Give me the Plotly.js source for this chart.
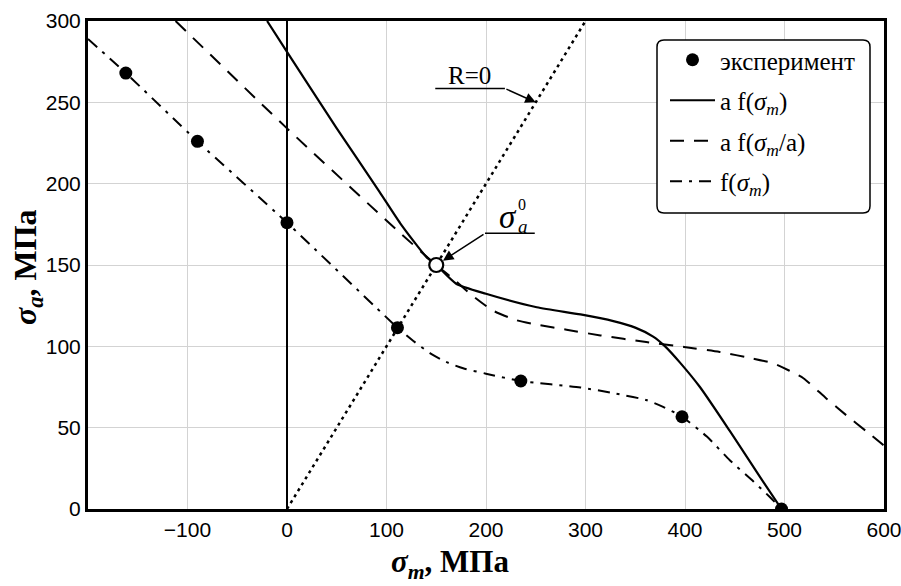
<!DOCTYPE html>
<html>
<head>
<meta charset="utf-8">
<script src="https://cdn.plot.ly/plotly-3.0.1.min.js"></script>
<style>html,body{margin:0;padding:0;background:#fff;}#chart{width:901px;height:586px;}</style>
</head>
<body>
<div id="chart"></div>
<script>
// ---- data ----
const expX = [-162, -90, 0, 111, 235, 397, 497];
const expY = [268, 226, 176, 111.5, 78.7, 56.7, 0];

const fX = [-200, -162, -90, 0, 111, 127, 144, 160, 177, 200, 235, 295, 330, 361, 378, 397, 422, 445, 469, 485, 497];
const fY = [289, 268, 226, 176, 111.5, 103.3, 95.7, 90.4, 86.5, 83.2, 78.7, 74.7, 71, 67, 62.8, 56.7, 44.5, 30, 16.8, 7.5, 0];

const afX = [-20, 0, 50, 93, 114, 140, 150, 170, 200, 251, 295, 328, 350, 368, 380, 395, 415, 445, 475, 497];
const afY = [300, 281, 234, 195, 175.5, 155, 150, 138.5, 132.3, 124, 119.6, 115.5, 111.5, 106, 100, 90, 75, 48, 20, 0];

const afaX = [-112, 0, 114, 150, 170, 184, 207, 231, 254, 281, 315, 361, 399, 435, 468, 489, 505, 519, 542, 562, 583, 600];
const afaY = [300, 234, 169.5, 150, 140, 132.3, 122, 116, 113, 110.2, 106.7, 102.6, 99.6, 96.5, 92.5, 89.5, 85, 80.4, 68, 57.7, 47.4, 39];

const rX = [0, 300];
const rY = [0, 300];

const s0X = [150];
const s0Y = [150];

const xTicks = [-100, 0, 100, 200, 300, 400, 500, 600];
const yTicks = [0, 50, 100, 150, 200, 250, 300];

const names = ['эксперимент', 'a f(<i>σ<sub>m</sub></i>)', 'a f(<i>σ<sub>m</sub></i>/a)', 'f(<i>σ<sub>m</sub></i>)'];

// ---- styling ----
const serif = 'Liberation Serif';
const sans = 'Liberation Sans';

const traces = [
  {x: rX, y: rY, mode: 'lines', line: {color: '#000', width: 2.5, dash: '3px,4px'}, showlegend: false, hoverinfo: 'skip'},
  {x: afaX, y: afaY, mode: 'lines', name: names[2], legendgroup: 'c', legendrank: 3,
   line: {color: '#000', width: 2, dash: '14px,10px', shape: 'spline', smoothing: 0.6}},
  {x: fX, y: fY, mode: 'lines', name: names[3], legendgroup: 'd', legendrank: 4,
   line: {color: '#000', width: 2, dash: '12px,7px,3px,7px', shape: 'spline', smoothing: 0.6}},
  {x: afX, y: afY, mode: 'lines', name: names[1], legendgroup: 'b', legendrank: 2,
   line: {color: '#000', width: 2.2, shape: 'spline', smoothing: 0.6}},
  {x: expX, y: expY, mode: 'markers', name: names[0], legendgroup: 'a', legendrank: 1,
   marker: {color: '#000', size: 13}},
  {x: s0X, y: s0Y, mode: 'markers', showlegend: false,
   marker: {color: '#fff', size: 14, line: {color: '#000', width: 2.2}}}
];

// legend rounded box (pixel geometry of plot area)
const L = 88, R = 884, T = 21, B = 509;
const W = R - L, H = B - T;
function px(x){return (x - L) / W;}
function py(y){return (B - y) / H;}
const bx0 = px(657), bx1 = px(870), by0 = py(40), by1 = py(213);
const rx = 7 / W, ry = 7 / H;
const boxPath = `M ${bx0+rx},${by0} L ${bx1-rx},${by0} Q ${bx1},${by0} ${bx1},${by0-ry} L ${bx1},${by1+ry} Q ${bx1},${by1} ${bx1-rx},${by1} L ${bx0+rx},${by1} Q ${bx0},${by1} ${bx0},${by1+ry} L ${bx0},${by0-ry} Q ${bx0},${by0} ${bx0+rx},${by0} Z`;

const layout = {
  width: 901, height: 586,
  margin: {l: L, r: 901 - R, t: T, b: 586 - B},
  paper_bgcolor: '#fff', plot_bgcolor: '#fff',
  showlegend: true,
  legend: {x: px(665), y: py(37), xanchor: 'left', yanchor: 'top',
    bgcolor: 'rgba(0,0,0,0)', borderwidth: 0, tracegroupgap: 5, itemwidth: 45,
    font: {family: serif, size: 25, color: '#000'}},
  xaxis: {range: [-200, 600], tickvals: xTicks, ticks: '', showgrid: true, gridcolor: '#d3d3d3', gridwidth: 1,
    zeroline: true, zerolinecolor: '#000', zerolinewidth: 2,
    showline: true, mirror: true, linecolor: '#000', linewidth: 3, ticklabeloverflow: 'allow',
    tickfont: {family: sans, size: 21, color: '#000'}},
  yaxis: {range: [0, 300], tickvals: yTicks, ticks: '', showgrid: true, gridcolor: '#d3d3d3', gridwidth: 1,
    zeroline: false, showline: true, mirror: true, linecolor: '#000', linewidth: 3, ticklabeloverflow: 'allow',
    tickfont: {family: sans, size: 21, color: '#000'}},
  shapes: [
    {type: 'path', xref: 'paper', yref: 'paper', path: boxPath, fillcolor: '#fff', line: {color: '#000', width: 1.5}, layer: 'above'},
    {type: 'line', xref: 'x', yref: 'y', x0: 149, x1: 219, y0: 258.5, y1: 258.5, line: {color: '#000', width: 1.5}},
    {type: 'line', xref: 'x', yref: 'y', x0: 199, x1: 249, y0: 169.5, y1: 169.5, line: {color: '#000', width: 1.5}}
  ],
  annotations: [
    {x: 250, y: 250, ax: 219, ay: 258.5, axref: 'x', ayref: 'y', xref: 'x', yref: 'y', text: '',
     showarrow: true, arrowhead: 2, arrowsize: 1.4, arrowwidth: 1.5, arrowcolor: '#000', standoff: 0},
    {x: 150, y: 150, ax: 199, ay: 169.5, axref: 'x', ayref: 'y', xref: 'x', yref: 'y', text: '',
     showarrow: true, arrowhead: 2, arrowsize: 1.4, arrowwidth: 1.5, arrowcolor: '#000', standoff: 8},
    {x: 183, y: 266.5, xref: 'x', yref: 'y', text: 'R=0', showarrow: false, font: {family: serif, size: 25, color: '#000'}},
    {x: 222.5, y: 179.5, xref: 'x', yref: 'y', text: '<i>σ</i>', showarrow: false, font: {family: serif, size: 33, color: '#000'}},
    {x: 236.5, y: 187, xref: 'x', yref: 'y', text: '0', showarrow: false, font: {family: serif, size: 16, color: '#000'}},
    {x: 237.5, y: 173.8, xref: 'x', yref: 'y', text: '<i>a</i>', showarrow: false, font: {family: serif, size: 19, color: '#000'}},
    {xref: 'paper', yref: 'paper', x: px(450), y: py(564), xanchor: 'center', yanchor: 'middle',
     text: '<b><i>σ<sub>m</sub></i>, МПа</b>', showarrow: false, font: {family: serif, size: 31, color: '#000'}},
    {xref: 'paper', yref: 'paper', x: px(27), y: py(267), xanchor: 'center', yanchor: 'middle',
     text: '<b><i>σ<sub>a</sub></i>, МПа</b>', showarrow: false, textangle: -90, font: {family: serif, size: 32, color: '#000'}}
  ]
};

Plotly.newPlot('chart', traces, layout, {displayModeBar: false, staticPlot: true});
</script>
</body>
</html>
